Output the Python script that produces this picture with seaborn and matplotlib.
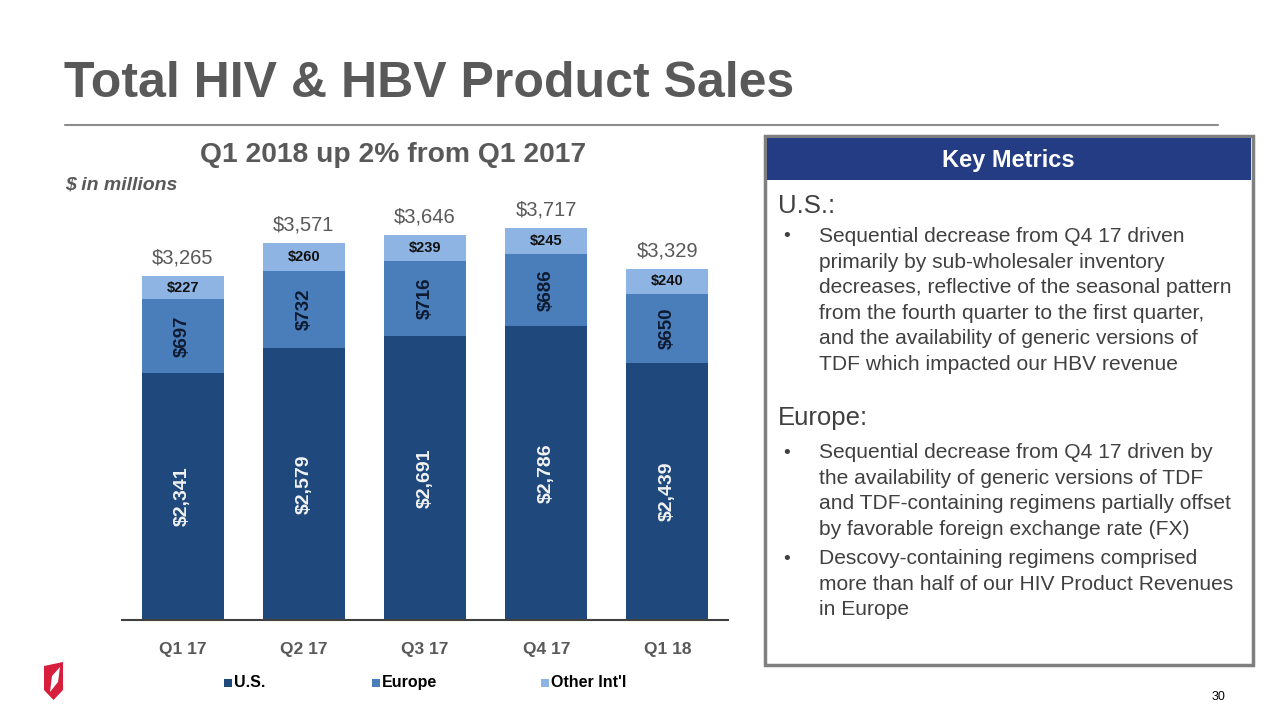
import numpy as np
import pandas as pd
import matplotlib
matplotlib.use('Agg')
import matplotlib.pyplot as plt
from matplotlib.patches import Rectangle, Polygon
import seaborn as sns

# =============================================================================
# DATOS
# =============================================================================

quarters = ['Q1 17', 'Q2 17', 'Q3 17', 'Q4 17', 'Q1 18']
us_sales = [2341, 2579, 2691, 2786, 2439]
europe_sales = [697, 732, 716, 686, 650]
other_sales = [227, 260, 239, 245, 240]
total_sales = [3265, 3571, 3646, 3717, 3329]

series_names = ['U.S.', 'Europe', "Other Int'l"]
series_colors = ['#1F497D', '#4A7EBB', '#8DB4E2']

df = pd.DataFrame({'Quarter': quarters, 'US': us_sales,
                   'Europe': europe_sales, 'Other': other_sales})
df['US_Europe'] = df['US'] + df['Europe']
df['Total'] = df['US_Europe'] + df['Other']

us_notes = [
    'Sequential decrease from Q4 17 driven',
    'primarily by sub-wholesaler inventory',
    'decreases, reflective of the seasonal pattern',
    'from the fourth quarter to the first quarter,',
    'and the availability of generic versions of',
    'TDF which impacted our HBV revenue',
]
europe_notes_1 = [
    'Sequential decrease from Q4 17 driven by',
    'the availability of generic versions of TDF',
    'and TDF-containing regimens partially offset',
    'by favorable foreign exchange rate (FX)',
]
europe_notes_2 = [
    'Descovy-containing regimens comprised',
    'more than half of our HIV Product Revenues',
    'in Europe',
]

# =============================================================================
# FIGURA
# =============================================================================

sns.set_style('white')
plt.rcParams['font.family'] = ['Liberation Sans', 'DejaVu Sans']

W, H = 1280, 720
fig = plt.figure(figsize=(12.8, 7.2), dpi=100)
fig.patch.set_facecolor('white')


def fx(x):
    return x / W


def fy(y):
    return 1 - y / H


gray = '#595959'
text_gray = '#404040'

# Titulo y linea
fig.text(fx(64), fy(97), 'Total HIV & HBV Product Sales', fontsize=36,
         fontweight='bold', color=gray, va='baseline', ha='left')
fig.add_artist(plt.Line2D([fx(65), fx(1218)], [fy(125), fy(125)],
                          color='#8c8c8c', linewidth=1.5))
fig.text(fx(393), fy(155), 'Q1 2018 up 2% from Q1 2017', fontsize=20.3,
         fontweight='bold', color=gray, va='center', ha='center')
fig.text(fx(65), fy(185), '$ in millions', fontsize=14, fontweight='bold',
         fontstyle='italic', color=gray, va='center', ha='left')

# Grafico de barras apiladas
ax = fig.add_axes([fx(122), fy(620), fx(728) - fx(122), (620 - 198) / H])
bw = 0.675
sns.barplot(data=df, x='Quarter', y='Total', color=series_colors[2],
            width=bw, saturation=1, ax=ax, linewidth=0)
sns.barplot(data=df, x='Quarter', y='US_Europe', color=series_colors[1],
            width=bw, saturation=1, ax=ax, linewidth=0)
sns.barplot(data=df, x='Quarter', y='US', color=series_colors[0],
            width=bw, saturation=1, ax=ax, linewidth=0)

ax.set_xlim(-0.5, 4.5)
ax.set_ylim(0, 4000)
ax.set_xlabel('')
ax.set_ylabel('')
ax.set_yticks([])
for s in ['top', 'right', 'left']:
    ax.spines[s].set_visible(False)
ax.spines['bottom'].set_color('#404040')
ax.spines['bottom'].set_linewidth(1.5)
ax.tick_params(axis='x', length=0, pad=16)
for lab in ax.get_xticklabels():
    lab.set_fontsize(12.5)
    lab.set_fontweight('bold')
    lab.set_color(gray)

for i, row in df.iterrows():
    ax.text(i, row['US'] / 2, f"${row['US']:,}", rotation=90, ha='center',
            va='center', fontsize=14, fontweight='bold', color='#F2F2F2')
    ax.text(i, row['US'] + row['Europe'] / 2, f"${row['Europe']:,}",
            rotation=90, ha='center', va='center', fontsize=13.5,
            fontweight='bold', color='#0E1A30')
    ax.text(i, row['US_Europe'] + row['Other'] / 2, f"${row['Other']:,}",
            ha='center', va='center', fontsize=10.5, fontweight='bold',
            color='#111111')
    ax.text(i, row['Total'] + 80, f"${total_sales[i]:,}", ha='center',
            va='bottom', fontsize=14.5, color=gray)

# Leyenda
legend_x = [228, 376, 545]
for name, color, lx in zip(series_names, series_colors, legend_x):
    fig.add_artist(Rectangle((fx(lx - 4), fy(687)), fx(8), 8 / H,
                             facecolor=color, edgecolor='none'))
    fig.text(fx(lx + 6), fy(687), name, fontsize=11.5, fontweight='bold',
             color='black', va='baseline', ha='left')

# Logo simplificado
shield = Polygon([(fx(44), fy(666)), (fx(63), fy(662)), (fx(63), fy(690)),
                  (fx(53.5), fy(700)), (fx(44), fy(690))],
                 closed=True, facecolor='#D71E3C', edgecolor='none')
fig.add_artist(shield)
leaf = Polygon([(fx(50), fy(692)), (fx(52), fy(676)), (fx(60), fy(667)),
                (fx(58), fy(682))],
               closed=True, facecolor='white', edgecolor='none')
fig.add_artist(leaf)

fig.text(fx(1218), fy(697), '30', fontsize=9, color='black',
         va='center', ha='center')

# Caja de Key Metrics
fig.add_artist(Rectangle((fx(765), fy(665)), fx(1253 - 765), (665 - 136) / H,
                         facecolor='white', edgecolor='#7f7f7f', linewidth=2.5))
fig.add_artist(Rectangle((fx(767), fy(180)), fx(1251 - 767), (180 - 138) / H,
                         facecolor='#233C83', edgecolor='none'))
fig.text(fx(1008), fy(160), 'Key Metrics', fontsize=17, fontweight='bold',
         color='white', va='center', ha='center')

note_size = 15.1
fig.text(fx(778), fy(206), 'U.S.:', fontsize=18.5, color=text_gray,
         va='center', ha='left')
step = 25.4
y0 = 237
fig.text(fx(787), fy(y0), '•', fontsize=14, color=text_gray,
         va='center', ha='center')
for k, line in enumerate(us_notes):
    fig.text(fx(819), fy(y0 + k * step), line, fontsize=note_size,
             color=text_gray, va='center', ha='left')

fig.text(fx(778), fy(418), 'Europe:', fontsize=18.5, color=text_gray,
         va='center', ha='left')
y1 = 453
fig.text(fx(787), fy(y1), '•', fontsize=14, color=text_gray,
         va='center', ha='center')
for k, line in enumerate(europe_notes_1):
    fig.text(fx(819), fy(y1 + k * step), line, fontsize=note_size,
             color=text_gray, va='center', ha='left')
y2 = 559
fig.text(fx(787), fy(y2), '•', fontsize=14, color=text_gray,
         va='center', ha='center')
for k, line in enumerate(europe_notes_2):
    fig.text(fx(819), fy(y2 + k * step), line, fontsize=note_size,
             color=text_gray, va='center', ha='left')

plt.savefig('out.png', dpi=100, facecolor='white')
plt.close()
